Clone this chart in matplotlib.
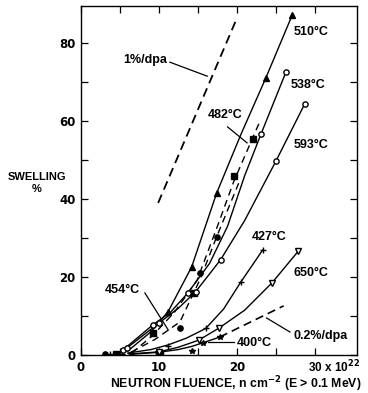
import matplotlib
matplotlib.use('Agg')
import matplotlib.pyplot as plt

plt.rcParams['font.family'] = ['Liberation Sans', 'DejaVu Sans']
plt.rcParams['font.weight'] = 'bold'
plt.rcParams['mathtext.default'] = 'bf'

# fitted curves (fluence 1e22 n/cm2, swelling %)
c400_x = [6.4, 10.0, 12.5, 14.2, 15.6, 17.8]
c400_y = [0.2, 0.7, 1.4, 2.2, 3.1, 4.6]
c427_x = [6.0, 9.0, 11.2, 13.5, 16.0, 18.3, 20.5, 23.3]
c427_y = [0.5, 1.4, 2.6, 4.3, 6.8, 11.8, 18.7, 26.9]
c454_x = [6.5, 9.5, 12.7, 15.3, 17.4, 20.4]
c454_y = [0.8, 4.0, 8.5, 19.5, 30.3, 44.9]
c482_x = [6.5, 9.2, 12.0, 14.9, 17.5, 19.6, 22.9]
c482_y = [0.5, 5.0, 11.0, 19.2, 33.0, 44.5, 59.7]
c510_x = [6.0, 9.0, 11.2, 14.2, 17.4, 20.5, 23.7, 27.1]
c510_y = [1.0, 6.0, 11.2, 22.6, 41.5, 56.5, 71.0, 87.2]
c538_x = [5.4, 9.2, 11.5, 13.7, 16.5, 18.8, 21.0, 23.1, 26.3]
c538_y = [1.3, 7.7, 11.0, 15.9, 23.5, 33.0, 46.0, 56.7, 72.6]
c593_x = [5.9, 10.0, 12.5, 14.7, 17.9, 21.0, 25.0, 28.7]
c593_y = [1.8, 8.2, 12.0, 16.2, 24.4, 34.5, 49.7, 64.4]
c650_x = [6.5, 10.0, 12.5, 15.1, 17.7, 21.0, 24.5, 27.9]
c650_y = [0.3, 0.8, 2.0, 3.8, 6.9, 11.5, 18.5, 26.7]

# measured points
p400_x = [6.4, 10.0, 14.2, 15.6, 17.8]
p400_y = [0.2, 0.5, 1.0, 3.1, 4.6]
p427_x = [3.7, 5.2, 11.2, 16.0, 20.5, 23.3]
p427_y = [0.3, 0.3, 2.3, 6.8, 18.7, 26.9]
p454_x = [3.1, 9.9, 12.7, 15.3, 17.4]
p454_y = [0.3, 0.8, 6.9, 21.0, 30.3]
p482_x = [4.5, 9.2, 10.2, 14.5, 19.6, 22.1]
p482_y = [0.3, 5.6, 0.6, 16.0, 45.9, 55.4]
p510_x = [11.2, 14.2, 17.4, 23.7, 27.1]
p510_y = [11.0, 22.6, 41.5, 71.0, 87.2]
p538_x = [5.4, 9.2, 13.7, 23.1, 26.3]
p538_y = [1.3, 7.7, 15.9, 56.7, 72.6]
p593_x = [5.9, 10.0, 14.7, 17.9, 25.0, 28.7]
p593_y = [1.8, 8.2, 16.2, 24.4, 49.7, 64.4]
p650_x = [10.0, 15.1, 17.7, 24.5, 27.9]
p650_y = [0.8, 3.8, 6.9, 18.5, 26.7]

# reference rate lines
r1_x = [9.9, 19.9]
r1_y = [39.0, 85.9]
r02_x = [17.8, 26.0]
r02_y = [4.6, 12.6]

fig = plt.figure(figsize=(3.68, 3.93), dpi=100)
ax = fig.add_axes([0.220, 0.0967, 0.750, 0.888])

solid = dict(color='black', lw=1.0)
dashed = dict(color='black', lw=1.0, ls=(0, (5, 3.5)))

ax.plot(c400_x, c400_y, **solid)
ax.plot(c427_x, c427_y, **solid)
ax.plot(c454_x, c454_y, **dashed)
ax.plot(c482_x, c482_y, **dashed)
ax.plot(c510_x, c510_y, **solid)
ax.plot(c538_x, c538_y, **solid)
ax.plot(c593_x, c593_y, **solid)
ax.plot(c650_x, c650_y, **solid)
ax.plot(r1_x, r1_y, color='black', lw=1.3, ls=(0, (5, 3)))
ax.plot(r02_x, r02_y, color='black', lw=1.2, ls=(0, (5, 3)))

ms = 3.8
ax.plot(p400_x, p400_y, ls='none', marker='*', ms=4, color='black')
ax.plot(p427_x, p427_y, ls='none', marker='+', ms=5, mew=1.0, color='black')
ax.plot(p454_x, p454_y, ls='none', marker='o', ms=ms, color='black')
ax.plot(p482_x, p482_y, ls='none', marker='s', ms=ms, color='black')
ax.plot(p510_x, p510_y, ls='none', marker='^', ms=ms, color='black')
ax.plot(p538_x, p538_y, ls='none', marker='o', ms=ms, mfc='white', mec='black', mew=1.0)
ax.plot(p593_x, p593_y, ls='none', marker='o', ms=ms, mfc='white', mec='black', mew=1.0)
ax.plot(p650_x, p650_y, ls='none', marker='v', ms=ms, mfc='white', mec='black', mew=1.0)

fs = 9
ax.text(27.3, 82.8, '510°C', fontsize=fs, fontweight='bold', va='center')
ax.text(26.9, 69.2, '538°C', fontsize=fs, fontweight='bold', va='center')
ax.text(27.3, 53.8, '593°C', fontsize=fs, fontweight='bold', va='center')
ax.text(21.9, 30.3, '427°C', fontsize=fs, fontweight='bold', va='center')
ax.text(27.2, 21.0, '650°C', fontsize=fs, fontweight='bold', va='center')
ax.text(27.3, 4.9, '0.2%/dpa', fontsize=fs, fontweight='bold', va='center')
ax.text(20.0, 3.1, '400°C', fontsize=fs, fontweight='bold', va='center')
ax.text(16.2, 61.5, '482°C', fontsize=fs, fontweight='bold', va='center')
ax.text(3.1, 16.7, '454°C', fontsize=fs, fontweight='bold', va='center')
ax.text(5.4, 75.6, '1%/dpa', fontsize=fs, fontweight='bold', va='center')

# leader lines
lead = dict(color='black', lw=0.9)
ax.plot([18.8, 21.3], [58.5, 54.4], **lead)
ax.plot([8.2, 11.2], [15.9, 6.4], **lead)
ax.plot([11.4, 16.2], [75.1, 71.5], **lead)
ax.plot([26.8, 23.8], [5.9, 9.5], **lead)
ax.plot([19.6, 16.3], [3.3, 3.3], **lead)

ax.set_xlim(0, 35.4)
ax.set_ylim(0, 89.5)
ax.set_xticks([0, 10, 20, 30])
ax.set_xticklabels(['0', '10', '20', ''])
ax.set_xticks([5, 15, 25], minor=True)
ax.set_yticks([0, 20, 40, 60, 80])
ax.set_yticks([10, 30, 50, 70], minor=True)
ax.tick_params(which='both', direction='in', top=True, right=True, width=0.9)
ax.tick_params(which='major', length=5, pad=4, labelsize=8.5)
ax.tick_params(which='minor', length=5)
for lab in ax.get_xticklabels() + ax.get_yticklabels():
    lab.set_fontweight('bold')
    lab.set_family('DejaVu Sans')
for s in ax.spines.values():
    s.set_linewidth(1.0)

ax.annotate('30 x 10$^{22}$', xy=(30, 0), xycoords=('data', 'axes fraction'),
            xytext=(-5, -3), textcoords='offset points', ha='left', va='top',
            fontsize=8.5, fontweight='bold')

fig.text(37 / 368, 1 - 183 / 393, 'SWELLING\n%', ha='center', va='center',
         fontsize=8, fontweight='bold', linespacing=1.15)
fig.text(236 / 368, 1 - 384 / 393, 'NEUTRON FLUENCE, n cm$^{-2}$ (E > 0.1 MeV)',
         ha='center', va='center', fontsize=8.8, fontweight='bold')

fig.savefig('out.png', dpi=100)
